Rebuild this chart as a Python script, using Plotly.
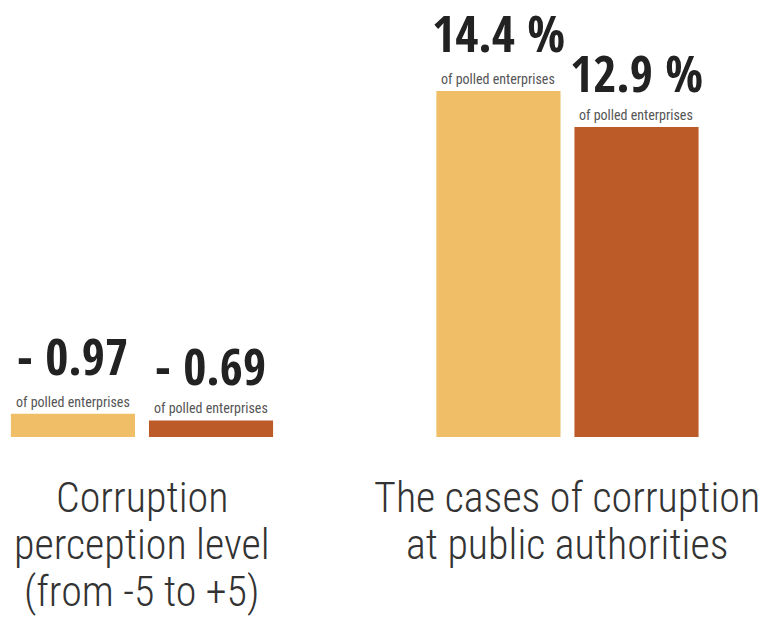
import plotly.graph_objects as go

# ---- data ----
categories = ["Corruption perception level", "The cases of corruption at public authorities"]
category_lines = [["Corruption", "perception level", "(from -5 to +5)"],
                  ["The cases of corruption", "at public authorities"]]
series_a = [-0.97, 14.4]   # first bar of each group
series_b = [-0.69, 12.9]   # second bar of each group
labels_a = ["- 0.97", "14.4 %"]
labels_b = ["- 0.69", "12.9 %"]
sub_label = "of polled enterprises"

COL_A = "#EFBE66"
COL_B = "#BC5A28"
BIG = "Open Sans Condensed, Roboto Condensed, sans-serif"
NARROW = "Roboto Condensed, DejaVu Sans Condensed, sans-serif"

fig = go.Figure()
fig.add_trace(go.Bar(x=categories, y=[abs(v) for v in series_a], marker=dict(color=COL_A, line=dict(width=0)),
                     hoverinfo="skip"))
fig.add_trace(go.Bar(x=categories, y=[abs(v) for v in series_b], marker=dict(color=COL_B, line=dict(width=0)),
                     hoverinfo="skip"))

ann = []
for vals, labs, xs, big_shift in [(series_a, labels_a, -69, 58), (series_b, labels_b, 69, 54)]:
    for cat, v, lab in zip(categories, vals, labs):
        ann.append(dict(x=cat, y=abs(v), xref="x", yref="y", xshift=xs, yshift=big_shift,
                        text="<b>" + lab + "</b>", showarrow=False, yanchor="middle",
                        font=dict(family=BIG, size=50, color="#222222")))
        ann.append(dict(x=cat, y=abs(v), xref="x", yref="y", xshift=xs, yshift=12,
                        text=sub_label, showarrow=False, yanchor="middle",
                        font=dict(family=NARROW, size=14, color="#555555")))

for cat, lines in zip(categories, category_lines):
    for i, line in enumerate(lines):
        ann.append(dict(x=cat, y=0, xref="x", yref="paper", yshift=-60 - 47 * i,
                        text=line, showarrow=False, yanchor="middle",
                        font=dict(family=NARROW, size=42, color="#333333", weight=300)))

fig.update_layout(
    width=768, height=627,
    margin=dict(l=0, r=0, t=0, b=190),
    paper_bgcolor="white", plot_bgcolor="white",
    barmode="group", bargap=0.351, bargroupgap=0.101,
    showlegend=False,
    xaxis=dict(type="category", range=[-0.3337, 1.4713], visible=False),
    yaxis=dict(range=[0, 18.19], visible=False),
    annotations=ann,
)
fig.write_html("out.html")
